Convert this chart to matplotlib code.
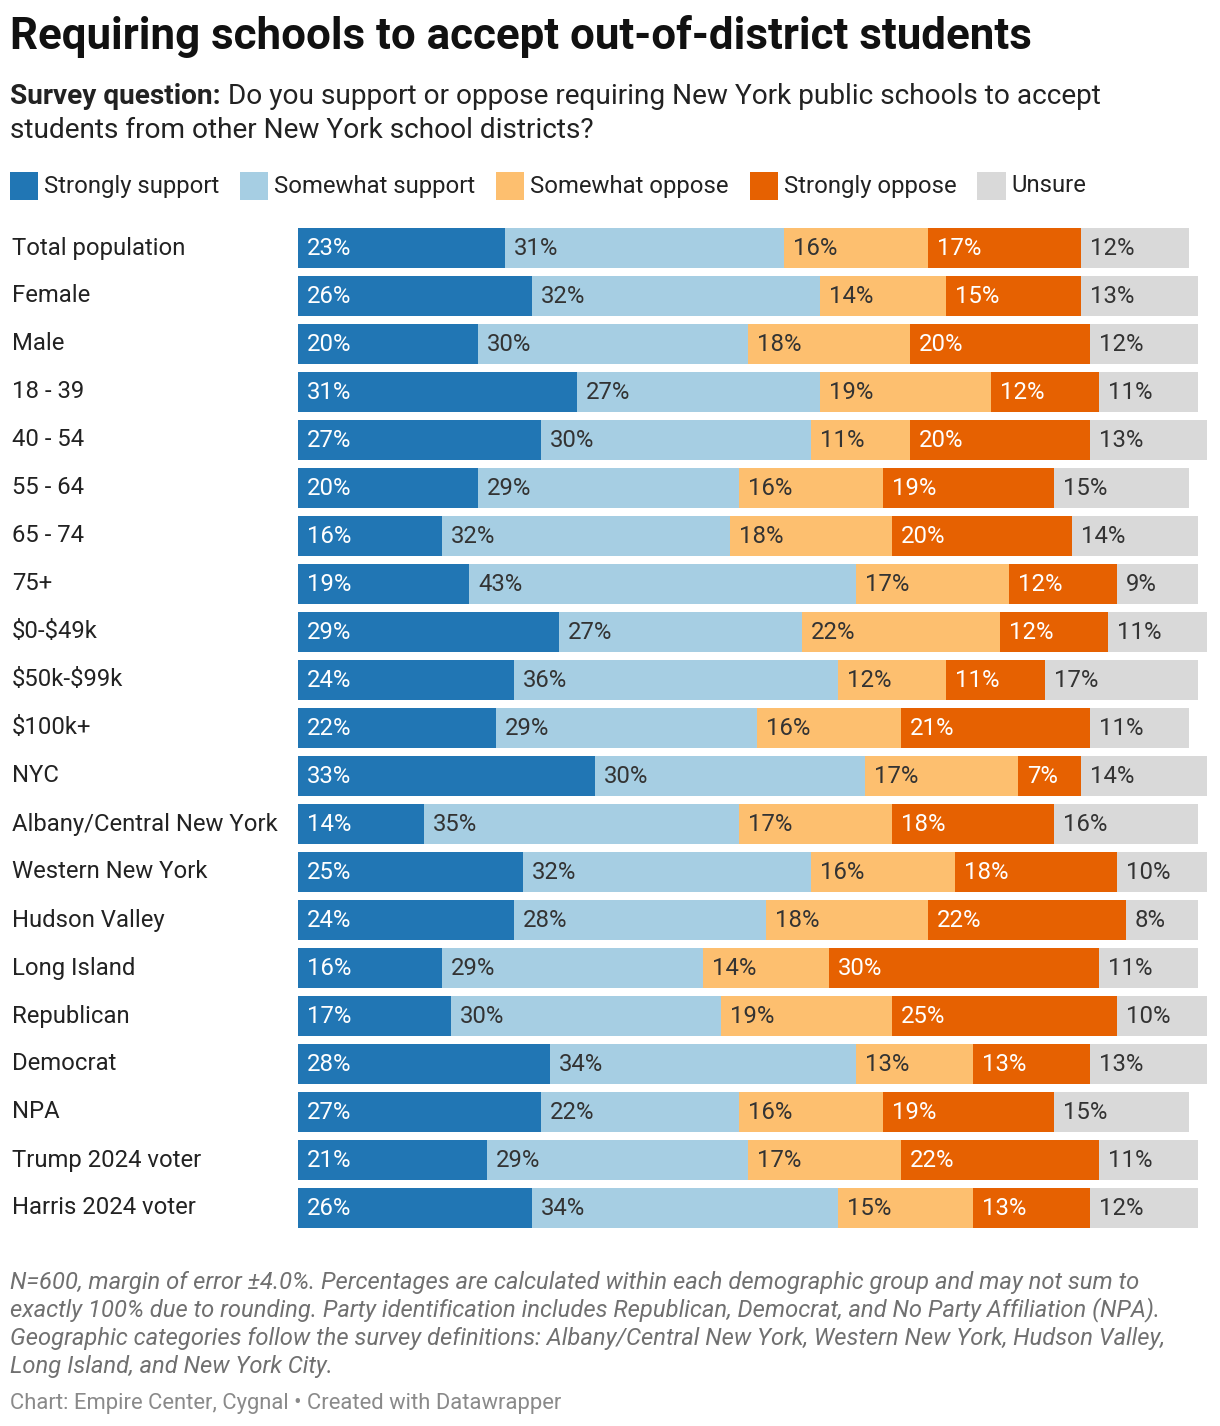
import matplotlib
matplotlib.use("Agg")
import matplotlib.pyplot as plt
from matplotlib.patches import Rectangle

categories = ["Total population", "Female", "Male", "18 - 39", "40 - 54", "55 - 64",
              "65 - 74", "75+", "$0-$49k", "$50k-$99k", "$100k+", "NYC",
              "Albany/Central New York", "Western New York", "Hudson Valley",
              "Long Island", "Republican", "Democrat", "NPA", "Trump 2024 voter",
              "Harris 2024 voter"]
strongly_support = [23, 26, 20, 31, 27, 20, 16, 19, 29, 24, 22, 33, 14, 25, 24, 16, 17, 28, 27, 21, 26]
somewhat_support = [31, 32, 30, 27, 30, 29, 32, 43, 27, 36, 29, 30, 35, 32, 28, 29, 30, 34, 22, 29, 34]
somewhat_oppose = [16, 14, 18, 19, 11, 16, 18, 17, 22, 12, 16, 17, 17, 16, 18, 14, 19, 13, 16, 17, 15]
strongly_oppose = [17, 15, 20, 12, 20, 19, 20, 12, 12, 11, 21, 7, 18, 18, 22, 30, 25, 13, 19, 22, 13]
unsure = [12, 13, 12, 11, 13, 15, 14, 9, 11, 17, 11, 14, 16, 10, 8, 11, 10, 13, 15, 11, 12]
series_names = ["Strongly support", "Somewhat support", "Somewhat oppose", "Strongly oppose", "Unsure"]

series = [strongly_support, somewhat_support, somewhat_oppose, strongly_oppose, unsure]
colors = ["#2176b4", "#a6cee3", "#fdbf6f", "#e66101", "#d9d9d9"]
text_colors = ["white", "#333333", "#333333", "white", "#333333"]

W, H = 1220, 1426
fig = plt.figure(figsize=(W / 100, H / 100), dpi=100)
plt.rcParams['font.family'] = ['Roboto', 'DejaVu Sans']

def fx(px):
    return px / W

def fy(py):
    return 1 - py / H

LABEL_FS = 17.2

# Title and subtitle
fig.text(fx(10), fy(36), "Requiring schools to accept out-of-district students",
         fontsize=31.6, fontweight="bold", color="#111111", va="center", ha="left")
t1 = fig.text(fx(10), fy(97), "Survey question:", fontsize=20.2, fontweight="bold",
              color="#222222", va="center", ha="left")
fig.canvas.draw()
bb = t1.get_window_extent()
fig.text(bb.x1 / W + fx(7), fy(97),
         "Do you support or oppose requiring New York public schools to accept",
         fontsize=20.2, color="#222222", va="center", ha="left")
fig.text(fx(10), fy(130), "students from other New York school districts?",
         fontsize=20.2, color="#222222", va="center", ha="left")

# Legend
lx = 10
for name, c in zip(series_names, colors):
    fig.patches.append(Rectangle((fx(lx), fy(200)), fx(28), 28 / H, transform=fig.transFigure,
                                 facecolor=c, edgecolor="none"))
    t = fig.text(fx(lx + 34), fy(186), name, fontsize=LABEL_FS, color="#222222",
                 va="center", ha="left")
    fig.canvas.draw()
    e = t.get_window_extent()
    lx = e.x1 + 21

# Axes for bars
ax_left, ax_right = 298, 298 + 9 * 101
ax_top, ax_bottom = 224, 248 + 48 * 20 + 24
ax = fig.add_axes([fx(ax_left), fy(ax_bottom), fx(ax_right - ax_left), (ax_bottom - ax_top) / H])
ax.set_xlim(0, 101)
ax.set_ylim(len(categories) - 0.5, -0.5)
ax.axis("off")

ys = list(range(len(categories)))
left = [0] * len(categories)
for vals, c, tc in zip(series, colors, text_colors):
    ax.barh(ys, vals, left=left, height=40 / 48, color=c, edgecolor="none")
    for i, v in enumerate(vals):
        ax.text(left[i] + 1.0, i + 0.02, f"{v}%", fontsize=LABEL_FS, color=tc,
                va="center", ha="left")
    left = [l + v for l, v in zip(left, vals)]

for i, cat in enumerate(categories):
    fig.text(fx(12), fy(248 + 48 * i), cat, fontsize=LABEL_FS, color="#222222",
             va="center", ha="left", parse_math=False)

# Footnote
notes = ["N=600, margin of error \u00b14.0%. Percentages are calculated within each demographic group and may not sum to",
         "exactly 100% due to rounding. Party identification includes Republican, Democrat, and No Party Affiliation (NPA).",
         "Geographic categories follow the survey definitions: Albany/Central New York, Western New York, Hudson Valley,",
         "Long Island, and New York City."]
for k, line in enumerate(notes):
    fig.text(fx(10), fy(1282 + 28 * k), line, fontsize=17.1, style="italic", color="#707070",
             va="center", ha="left")
fig.text(fx(10), fy(1403), "Chart: Empire Center, Cygnal \u2022 Created with Datawrapper",
         fontsize=15.8, color="#8a8a8a", va="center", ha="left")

fig.savefig("out.png", dpi=100)
